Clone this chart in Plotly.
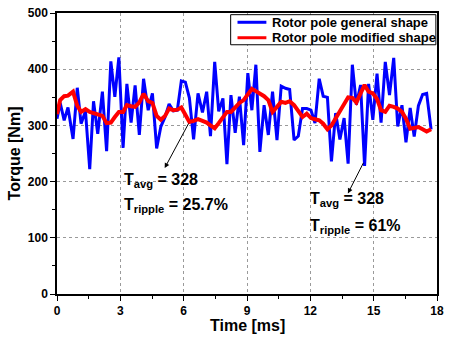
import plotly.graph_objects as go

time_ms = [0, 0.15, 0.34, 0.52, 0.76, 0.96, 1.14, 1.35, 1.55, 1.73, 1.93, 2.15, 2.35, 2.55, 2.74, 2.93,
           3.13, 3.31, 3.51, 3.70, 3.90, 4.10, 4.32, 4.52, 4.72, 4.92, 5.12, 5.31, 5.51, 5.70, 5.89,
           6.08, 6.27, 6.47, 6.68, 6.89, 7.09, 7.27, 7.47, 7.66, 7.86, 8.05, 8.24, 8.44, 8.64, 8.84,
           9.04, 9.23, 9.42, 9.61, 9.81, 10.01, 10.21, 10.42, 10.62, 10.82, 11.02, 11.23, 11.43,
           11.63, 11.83, 12.03, 12.22, 12.42, 12.61, 12.81, 13.00, 13.20, 13.40, 13.60, 13.79, 13.99,
           14.18, 14.38, 14.57, 14.76, 14.96, 15.16, 15.35, 15.55, 15.75, 15.95, 16.14, 16.34, 16.53,
           16.73, 16.92, 17.12, 17.32, 17.51, 17.72]

general_shape = [312, 340, 309, 332, 276, 367, 303, 325, 222, 343, 285, 360, 254, 414, 351, 421,
                 260, 374, 305, 371, 283, 383, 327, 357, 259, 298, 315, 338, 326, 327, 379,
                 377, 349, 275, 357, 323, 360, 281, 413, 325, 348, 231, 354, 287, 351, 265,
                 393, 327, 408, 253, 336, 283, 360, 274, 370, 366, 364, 274, 281,
                 330, 330, 327, 304, 383, 352, 350, 236, 322, 275, 313, 232, 408,
                 337, 372, 228, 374, 310, 392, 305, 413, 354, 420, 298, 336, 270,
                 331, 280, 335, 355, 357, 293]

modified_shape = [320, 345, 352, 353, 360, 335, 324, 329, 324, 322, 321, 317, 304, 305, 315, 324,
                  324, 336, 334, 333, 341, 356, 343, 340, 317, 310, 317, 330, 327, 328, 332,
                  318, 306, 308, 311, 308, 305, 300, 295, 304, 315, 324, 324, 333, 340, 345,
                  355, 365, 361, 357, 352, 345, 324, 333, 342, 340, 343, 336, 324,
                  315, 321, 313, 311, 309, 303, 293, 300, 313, 323, 337, 350, 349,
                  341, 357, 372, 360, 357, 347, 327, 324, 335, 333, 330, 324, 312,
                  294, 295, 297, 293, 289, 293]

series_names = ["Rotor pole general shape", "Rotor pole modified shape"]
series_colors = ["#0000FF", "#FF0000"]
series_widths = [3, 4]

x_ticks = [0, 3, 6, 9, 12, 15, 18]
y_ticks = [0, 100, 200, 300, 400, 500]

FONT = "Liberation Sans, Arial, sans-serif"

fig = go.Figure()
for vals, name, col, w in zip([general_shape, modified_shape], series_names, series_colors, series_widths):
    fig.add_trace(go.Scatter(x=time_ms, y=vals, mode="lines", name=name,
                             line=dict(color=col, width=w), showlegend=False))

axis_common = dict(
    showline=True, linecolor="black", linewidth=1.5, mirror=True,
    ticks="outside", ticklen=5, tickwidth=1, tickcolor="black",
    showgrid=True, gridcolor="#9a9a9a", gridwidth=1, griddash="dot",
    zeroline=False,
    tickfont=dict(family=FONT, size=12, color="black", weight="bold"),
)

fig.update_xaxes(range=[0, 18], tickvals=x_ticks, ticktext=[str(v) for v in x_ticks],
                 minor=dict(ticks="outside", ticklen=3, dtick=1.5, tick0=0, showgrid=False),
                 **axis_common)
fig.update_yaxes(range=[0, 500], tickvals=y_ticks, ticktext=[str(v) for v in y_ticks],
                 minor=dict(ticks="outside", ticklen=3, dtick=50, tick0=0, showgrid=False),
                 title=dict(text="Torque [Nm]", standoff=3,
                            font=dict(family=FONT, size=16, color="black", weight="bold")),
                 **axis_common)

ann_font = dict(family=FONT, size=16, color="black")
annotations = [
    dict(x=0.5, y=-0.074, xref="paper", yref="paper", text="<b>Time [ms]</b>", showarrow=False,
         xanchor="center", yanchor="top", font=ann_font),
    dict(x=3.08, y=202, text="<b>T<sub>avg</sub> = 328</b>", showarrow=False,
         xanchor="left", yanchor="middle", font=ann_font),
    dict(x=3.08, y=158, text="<b>T<sub>ripple</sub> = 25.7%</b>", showarrow=False,
         xanchor="left", yanchor="middle", font=ann_font),
    dict(x=11.9, y=168, text="<b>T<sub>avg</sub> = 328</b>", showarrow=False,
         xanchor="left", yanchor="middle", font=ann_font),
    dict(x=11.9, y=120, text="<b>T<sub>ripple</sub> = 61%</b>", showarrow=False,
         xanchor="left", yanchor="middle", font=ann_font),
    dict(x=5.1, y=224, ax=6.27, ay=306, axref="x", ayref="y", xref="x", yref="y",
         text="", showarrow=True, arrowhead=2, arrowsize=1, arrowwidth=1, arrowcolor="black"),
    dict(x=13.78, y=179, ax=14.55, ay=236, axref="x", ayref="y", xref="x", yref="y",
         text="", showarrow=True, arrowhead=2, arrowsize=1, arrowwidth=1, arrowcolor="black"),
]

# legend box drawn as a layout element (paper coordinates)
leg_x0, leg_x1, leg_y0, leg_y1 = 0.457, 0.997, 0.887, 0.994
leg_rows = [0.967, 0.912]
shapes = [dict(type="rect", xref="paper", yref="paper", x0=leg_x0, x1=leg_x1, y0=leg_y0, y1=leg_y1,
               line=dict(color="black", width=1), fillcolor="white", layer="above")]
for name, col, ry in zip(series_names, series_colors, leg_rows):
    shapes.append(dict(type="line", xref="paper", yref="paper", x0=0.475, x1=0.551, y0=ry, y1=ry,
                       line=dict(color=col, width=3), layer="above"))
    annotations.append(dict(x=0.561, y=ry, xref="paper", yref="paper", text="<b>%s</b>" % name,
                            showarrow=False, xanchor="left", yanchor="middle",
                            font=dict(family=FONT, size=13, color="black")))

fig.update_layout(
    width=450, height=341,
    margin=dict(l=57, r=6, t=11, b=47),
    paper_bgcolor="white", plot_bgcolor="white",
    showlegend=False,
    annotations=annotations,
    shapes=shapes,
)

fig.write_html("out.html")
